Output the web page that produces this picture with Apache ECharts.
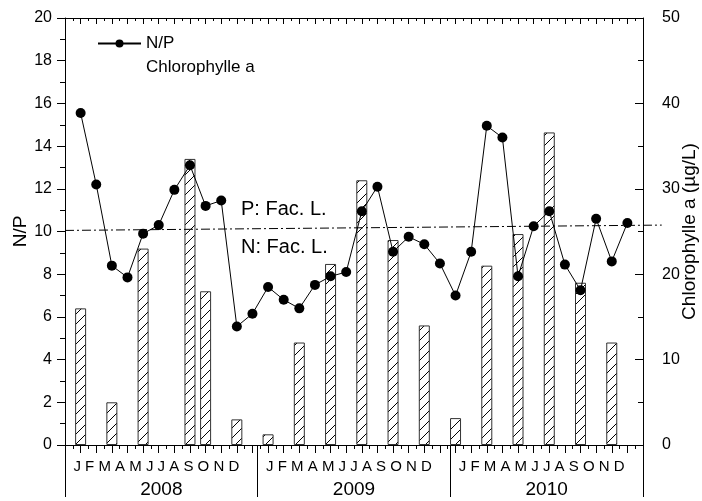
<!DOCTYPE html>
<html>
<head>
<meta charset="utf-8">
<script src="https://cdn.jsdelivr.net/npm/echarts@6/dist/echarts.min.js"></script>
<style>
  html, body { margin: 0; padding: 0; background: #fff; }
  #main { width: 702px; height: 501px; }
</style>
</head>
<body>
<div id="main"></div>
<script>
const months = ['J', 'F', 'M', 'A', 'M', 'J', 'J', 'A', 'S', 'O', 'N', 'D']
const years = ['2008', '2009', '2010']

// N/P ratio, one value per month, Jan 2008 .. Dec 2010
const npRatio = [
  15.55, 12.2, 8.4, 7.85, 9.9, 10.3, 11.95, 13.1, 11.2, 11.45, 5.55, 6.15,
  7.4, 6.8, 6.4, 7.5, 7.9, 8.1, 10.95, 12.1, 9.05, 9.75, 9.4, 8.5,
  7.0, 9.05, 14.95, 14.4, 7.9, 10.25, 10.95, 8.45, 7.25, 10.6, 8.6, 10.4
]

// chlorophylle a (µg/L), only sampled months (1 = Jan 2008)
const chlMonth = [1, 3, 5, 8, 9, 11, 13, 15, 17, 19, 21, 23, 25, 27, 29, 31, 33, 35]
const chlValue = [16, 5, 23, 33.5, 18, 3, 1.25, 12, 21.2, 31, 24, 14, 3.15, 21, 24.7, 36.6, 19, 12]

// limit line N/P = 10 (drawn a bit tilted in the original)
const limitLeft = 10.05
const limitRight = 10.3

const font = 'Liberation Sans, Arial, sans-serif'

// hatch pattern for the bars
function makeHatch() {
  const c = document.createElement('canvas')
  c.width = 10
  c.height = 10
  const ctx = c.getContext('2d')
  ctx.fillStyle = '#fff'
  ctx.fillRect(0, 0, 10, 10)
  ctx.strokeStyle = '#000'
  ctx.lineWidth = 1
  ctx.beginPath()
  ctx.moveTo(0, 10)
  ctx.lineTo(10, 0)
  ctx.moveTo(-1, 1)
  ctx.lineTo(1, -1)
  ctx.moveTo(9, 11)
  ctx.lineTo(11, 9)
  ctx.stroke()
  return c
}

const chart = echarts.init(document.getElementById('main'), null, { renderer: 'canvas' })

const option = {
  backgroundColor: '#fff',
  animation: false,
  textStyle: { fontFamily: font, color: '#000' },
  grid: { left: 65, right: 59, top: 18, bottom: 56, containLabel: false, outerBoundsMode: 'none' },
  legend: {
    orient: 'vertical',
    left: 92,
    top: 30,
    itemWidth: 43,
    itemHeight: 10,
    itemGap: 7,
    textStyle: { fontFamily: font, fontSize: 17, color: '#000' },
    data: [
      { name: 'N/P' },
      { name: 'Chlorophylle a', itemStyle: { opacity: 0 } }
    ]
  },
  xAxis: [
    {
      type: 'value', position: 'bottom', min: 0, max: 37, interval: 1,
      axisLine: { onZero: false, lineStyle: { color: '#000', width: 1 } },
      axisTick: { inside: false, length: 8, lineStyle: { color: '#000' } },
      minorTick: { show: true, splitNumber: 2, length: 4, lineStyle: { color: '#000' } },
      axisLabel: { show: false },
      splitLine: { show: false }
    },
    {
      type: 'value', position: 'top', min: 0, max: 37, interval: 1,
      axisLine: { onZero: false, lineStyle: { color: '#000', width: 1 } },
      axisTick: { inside: true, length: 6, lineStyle: { color: '#000' } },
      minorTick: { show: true, splitNumber: 2, length: 3, lineStyle: { color: '#000' } },
      axisLabel: { show: false },
      splitLine: { show: false }
    },
    {
      type: 'category', position: 'bottom', data: years, boundaryGap: true,
      axisLine: { show: false, onZero: false },
      axisTick: { show: true, inside: false, length: 52, lineStyle: { color: '#000' } },
      axisLabel: {
        interval: 0,
        margin: 12,
        formatter: v => '{m|' + months.join(' ') + '}\n{y|' + v + '}',
        rich: {
          m: { fontFamily: font, fontSize: 15, lineHeight: 20, color: '#000', padding: [0, 10, 0, 0] },
          y: { fontFamily: font, fontSize: 19, lineHeight: 26, color: '#000' }
        }
      },
      splitLine: { show: false }
    }
  ],
  yAxis: [
    {
      type: 'value', position: 'left', min: 0, max: 20, interval: 2,
      name: 'N/P', nameLocation: 'middle', nameGap: 35, nameMoveOverlap: false,
      nameTextStyle: { fontFamily: font, fontSize: 19, color: '#000' },
      axisLine: { show: true, onZero: false, lineStyle: { color: '#000', width: 1 } },
      axisTick: { inside: false, length: 8, lineStyle: { color: '#000' } },
      minorTick: { show: true, splitNumber: 2, length: 5, lineStyle: { color: '#000' } },
      axisLabel: { margin: 13, fontFamily: font, fontSize: 16, color: '#000' },
      splitLine: { show: false }
    },
    {
      type: 'value', position: 'right', min: 0, max: 50, interval: 10,
      name: 'Chlorophylle a (µg/L)', nameLocation: 'middle', nameGap: 37, nameMoveOverlap: false,
      nameTextStyle: { fontFamily: font, fontSize: 19, color: '#000' },
      axisLine: { show: true, onZero: false, lineStyle: { color: '#000', width: 1 } },
      axisTick: { inside: true, length: 8, lineStyle: { color: '#000' } },
      minorTick: { show: true, splitNumber: 2, length: 5, lineStyle: { color: '#000' } },
      axisLabel: { margin: 19, fontFamily: font, fontSize: 16, color: '#000' },
      splitLine: { show: false }
    }
  ],
  series: [
    {
      name: 'Chlorophylle a',
      type: 'bar',
      xAxisIndex: 0,
      yAxisIndex: 1,
      barWidth: 11,
      itemStyle: {
        color: { image: makeHatch(), repeat: 'repeat' },
        borderColor: '#333',
        borderWidth: 1
      },
      data: chlMonth.map((m, k) => [m, chlValue[k]])
    },
    {
      name: 'N/P',
      type: 'line',
      xAxisIndex: 0,
      yAxisIndex: 0,
      symbol: 'circle',
      symbolSize: 10,
      lineStyle: { color: '#000', width: 1 },
      itemStyle: { color: '#000' },
      data: npRatio.map((v, i) => [i + 1, v])
    }
  ]
}

chart.setOption(option)

// dash-dot limit line and its labels
const p1 = chart.convertToPixel({ xAxisIndex: 0, yAxisIndex: 0 }, [0, limitLeft])
const p2 = chart.convertToPixel({ xAxisIndex: 0, yAxisIndex: 0 }, [38.2, limitRight])

chart.setOption({
  graphic: [
    {
      type: 'line',
      shape: { x1: p1[0], y1: p1[1], x2: p2[0], y2: p2[1] },
      style: { stroke: '#000', lineWidth: 1, lineDash: [9, 3, 2, 3] },
      z: 10
    },
    {
      type: 'text', left: 241, top: 199,
      style: { text: 'P: Fac. L.', font: '20px ' + font, fill: '#000' }
    },
    {
      type: 'text', left: 241, top: 237,
      style: { text: 'N: Fac. L.', font: '20px ' + font, fill: '#000' }
    }
  ]
})
</script>
</body>
</html>
